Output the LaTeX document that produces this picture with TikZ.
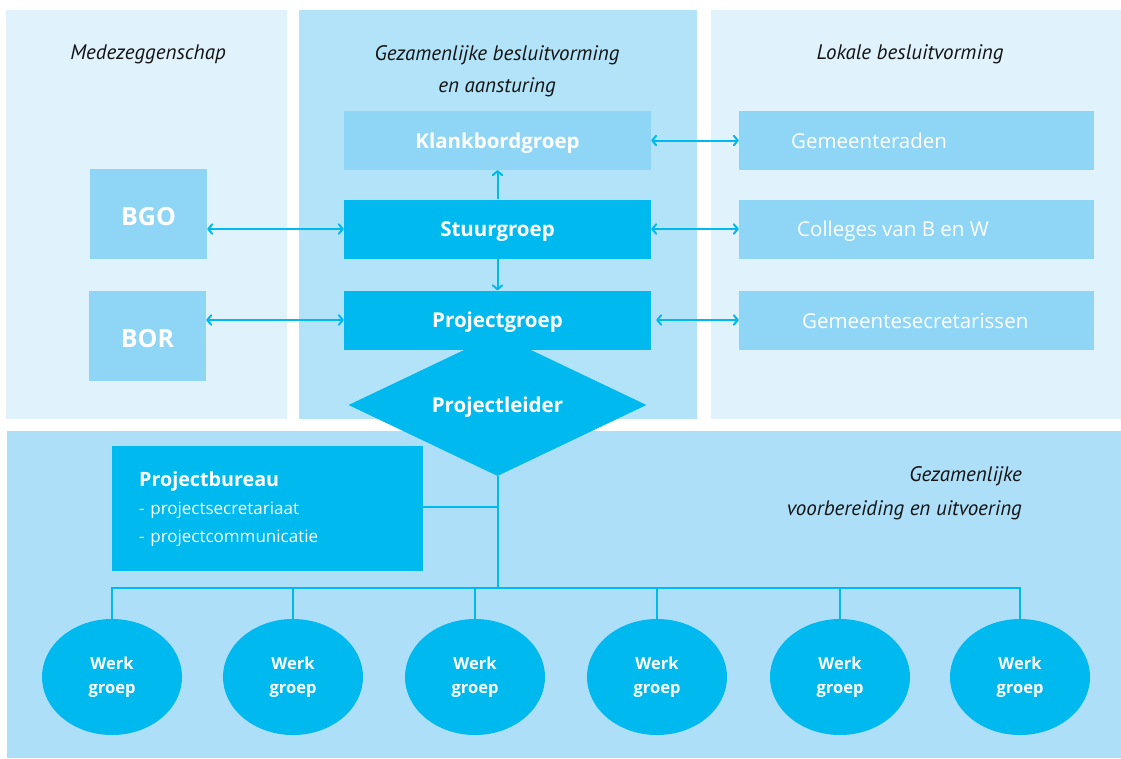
\documentclass[tikz,border=0pt]{standalone}
\usepackage{fontspec}
\setmainfont{Open Sans}
\newfontfamily\titlefont{PT Sans}
\usetikzlibrary{arrows.meta,shapes.geometric}
\definecolor{cPale}{HTML}{E0F3FD}
\definecolor{cMid}{HTML}{B3E3F9}
\definecolor{cBot}{HTML}{AEDFF9}
\definecolor{cLight}{HTML}{8FD5F5}
\definecolor{cStrong}{HTML}{00B9EF}
\definecolor{cInk}{HTML}{141414}
\tikzset{
  lbox/.style={fill=cLight, text=white, font=\bfseries\fontsize{20.5}{24}\selectfont, inner sep=0pt, text depth=0pt, minimum width=307pt, minimum height=59pt},
  sbox/.style={lbox, fill=cStrong},
  pbox/.style={fill=cStrong, text=white, inner sep=0pt, minimum width=311pt, minimum height=125pt, text width=257pt, inner xsep=27pt, align=left, font=\fontsize{17}{28}\selectfont},
  rbox/.style={fill=cLight, inner sep=0pt, minimum width=355pt, minimum height=59pt},
  rtext/.style={text=white, font=\fontsize{20.5}{24}\selectfont, inner sep=0pt, text depth=0pt, anchor=west},
  bigbox/.style={fill=cLight, text=white, font=\bfseries\fontsize{25}{30}\selectfont, inner sep=0pt, text height=23pt, text depth=0pt, minimum width=117pt, minimum height=90pt},
  wg/.style={ellipse, fill=cStrong, text=white, inner sep=0pt, minimum width=140pt, minimum height=116pt, align=center, font=\bfseries\fontsize{16.5}{24}\selectfont},
  ttl/.style={text=cInk, inner sep=0pt, font=\titlefont\itshape\fontsize{21}{32}\selectfont},
  conn/.style={draw=cStrong, line width=2pt},
  tip/.tip={Straight Barb[length=4pt,width=9.5pt,round]},
  arr/.style={conn, tip-tip},
  arrone/.style={conn, -tip}
}
\begin{document}
\begin{tikzpicture}[x=1pt,y=-1pt]
\useasboundingbox (0,0) rectangle (1121,758);
\fill[white] (0,0) rectangle (1121,758);
% panels
\fill[cPale] (6,10) rectangle (287,419);
\fill[cMid] (299,10) rectangle (697,419);
\fill[cPale] (711,10) rectangle (1121,419);
\fill[cBot] (7,431) rectangle (1121,758);

% titles
\node[ttl] (T1) at (148,54) {Medezeggenschap};
\node[ttl, align=center] (T2) at (497,71) {Gezamenlijke besluitvorming\\en aansturing};
\node[ttl] (T3) at (910,54) {Lokale besluitvorming};
\node[ttl, align=right, anchor=east, font=\titlefont\itshape\fontsize{21}{34}\selectfont] (T4) at (1022,493) {Gezamenlijke\\voorbereiding en uitvoering};

% diamond (behind Projectgroep)
\node[diamond, fill=cStrong, text=white, inner sep=0pt, aspect=2, text depth=0pt, minimum width=298pt, minimum height=142pt, font=\bfseries\fontsize{20.5}{24}\selectfont] (PL) at (497.5,405) {Projectleider};

% central boxes
\node[lbox] (KB) at (497.5,140.5) {Klankbordgroep};
\node[sbox] (SG) at (497.5,229) {Stuurgroep};
\node[sbox] (PG) at (497.5,320) {Projectgroep};

% left boxes
\node[bigbox] (BGO) at (148.5,214) {BGO};
\node[bigbox] (BOR) at (147.5,336) {BOR};

% right boxes
\node[rbox] (GR) at (916.5,140.5) {};
\node[rbox] (CO) at (916.5,229) {};
\node[rbox] (GS) at (916.5,320) {};
\node[rtext] (GRt) at (791,141) {Gemeenteraden};
\node[rtext] (COt) at (797,229) {Colleges van B en W};
\node[rtext] (GSt) at (802,321) {Gemeentesecretarissen};

% arrows
\draw[arr] (KB.east) -- (GR.west);
\draw[arr] (SG.east) -- (CO.west);
\draw[arr, shorten <=5pt] (PG.east) -- (GS.west);
\draw[arr] (BGO.east |- SG.west) -- (SG.west);
\draw[arr] (BOR.east |- PG.west) -- (PG.west);
\draw[arrone] (SG.north) -- (KB.south);
\draw[arrone] (SG.south) -- (PG.north);

% projectbureau
\node[pbox, anchor=north west] (PB) at (112,446) {{\bfseries\fontsize{19.7}{28}\selectfont Projectbureau}\\- projectsecretariaat\\- projectcommunicatie};

% werkgroepen
\node[wg] (W1) at (112,677) {Werk\\groep};
\node[wg] (W2) at (293,677) {Werk\\groep};
\node[wg] (W3) at (475,677) {Werk\\groep};
\node[wg] (W4) at (657,677) {Werk\\groep};
\node[wg] (W5) at (840,677) {Werk\\groep};
\node[wg] (W6) at (1020,677) {Werk\\groep};

% tree lines
\coordinate (bus) at (497.5,588);
\coordinate (pbj) at (497.5,507);
\draw[conn] (PL.south) -- (bus);
\draw[conn] (PB.east |- pbj) -- (pbj);
\draw[conn] (W1.north) -- (W1.north |- bus) -- (W6.north |- bus) -- (W6.north);
\foreach \w in {W2,W3,W4,W5} { \draw[conn] (\w.north |- bus) -- (\w.north); }
\end{tikzpicture}
\end{document}
